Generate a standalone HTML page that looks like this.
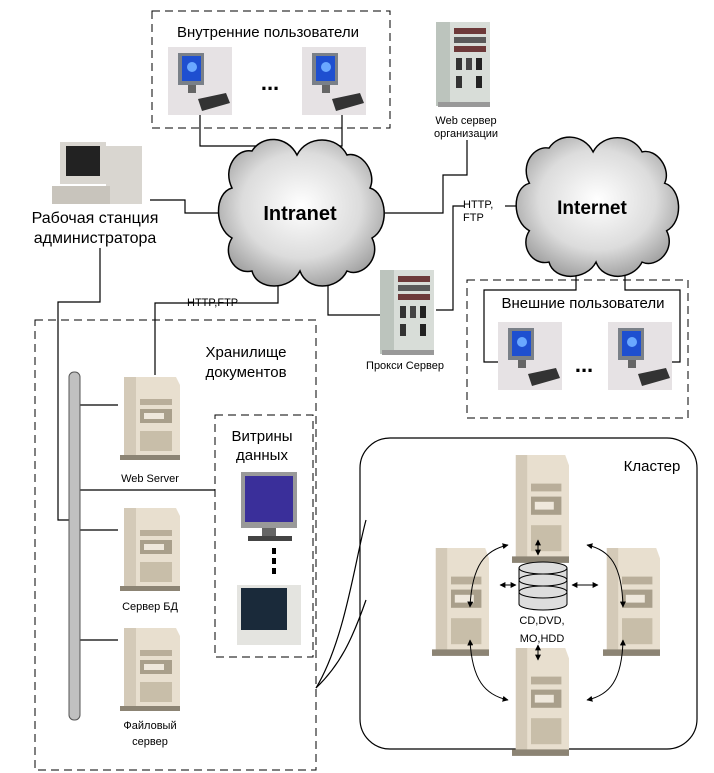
<!DOCTYPE html>
<html><head><meta charset="utf-8"><style>
body{margin:0;background:#fff}
svg{display:block}
text{font-family:"Liberation Sans","DejaVu Sans",sans-serif;fill:#000}
</style></head><body>
<svg width="714" height="773" viewBox="0 0 714 773" xmlns="http://www.w3.org/2000/svg">
<defs>
<radialGradient id="cg" cx="50%" cy="45%" r="60%"><stop offset="0" stop-color="#ffffff"/><stop offset="0.6" stop-color="#dcdcdc"/><stop offset="1" stop-color="#9a9a9a"/></radialGradient>
<g id="pc">
<rect x="0" y="0" width="64" height="68" fill="#e6e2e4"/>
<rect x="10" y="6" width="26" height="32" fill="#7a8088"/>
<rect x="14" y="9" width="19" height="25" fill="#1e4fd0"/>
<circle cx="24" cy="20" r="5" fill="#6aa8ff"/>
<rect x="20" y="38" width="8" height="8" fill="#666"/>
<polygon points="30,52 58,46 62,56 34,64" fill="#333"/>
</g>
<g id="tower">
<polygon points="4,0 56,0 60,8 60,80 4,80" fill="#e8dfcf"/>
<rect x="4" y="0" width="12" height="80" fill="#d4cab8"/>
<rect x="20" y="22" width="32" height="6" fill="#b9ae9a"/>
<rect x="20" y="32" width="32" height="14" fill="#a99f8b"/>
<rect x="24" y="36" width="20" height="6" fill="#efe8dc"/>
<rect x="20" y="54" width="32" height="20" fill="#c8bea9"/>
<rect x="0" y="78" width="60" height="5" fill="#8c8474"/>
</g>
<g id="rack">
<rect x="0" y="0" width="54" height="84" fill="#d8ddd8"/>
<rect x="0" y="0" width="14" height="84" fill="#bcc4bd"/>
<rect x="18" y="6" width="32" height="6" fill="#6d3a3a"/>
<rect x="18" y="15" width="32" height="6" fill="#5a5a5a"/>
<rect x="18" y="24" width="32" height="6" fill="#6d3a3a"/>
<rect x="20" y="36" width="6" height="12" fill="#333"/><rect x="30" y="36" width="6" height="12" fill="#444"/><rect x="40" y="36" width="6" height="12" fill="#222"/>
<rect x="20" y="54" width="6" height="12" fill="#333"/><rect x="40" y="54" width="6" height="12" fill="#222"/>
<rect x="2" y="80" width="52" height="5" fill="#999"/>
</g>
<g id="cloud">
<path d="M-50,-62 C-40,-78 -15,-78 -5,-58 C5,-78 35,-78 45,-58 C60,-62 75,-40 68,-25 C85,-20 88,15 70,25 C80,45 60,65 45,58 C35,78 5,78 -2,58 C-12,78 -45,78 -50,58 C-68,62 -80,40 -70,25 C-88,15 -88,-20 -70,-25 C-80,-45 -65,-65 -50,-62 Z" fill="url(#cg)" stroke="#000" stroke-width="1.5"/>
</g>
<marker id="ah" viewBox="0 0 10 10" refX="9" refY="5" markerWidth="6" markerHeight="6" orient="auto-start-reverse"><path d="M0,0 L10,5 L0,10 Z" fill="#000"/></marker>
</defs>

<!-- connecting lines -->
<g stroke="#000" stroke-width="1.2" fill="none">
<polyline points="200,115 200,146 278,146 278,155"/>
<polyline points="342,115 342,146 328,146 328,155"/>
<polyline points="150,200 185,200 185,213 222,213"/>
<polyline points="467,140 467,175 443,175 443,213 385,213"/>
<polyline points="278,272 278,303 155,303 155,375"/>
<polyline points="328,272 328,315 382,315"/>
<polyline points="436,310 453,310 453,206 464,206"/>
<line x1="505" y1="206" x2="520" y2="206"/>
<polyline points="100,248 100,302 58,302 58,520 72,520"/>
<polyline points="576,268 576,290 484,290 484,362 498,362"/>
<polyline points="625,268 625,290 680,290 680,362 668,362"/>
<line x1="78" y1="405" x2="118" y2="405"/>
<line x1="78" y1="490" x2="215" y2="490"/>
<line x1="78" y1="530" x2="118" y2="530"/>
<line x1="78" y1="640" x2="118" y2="640"/>
<path d="M316,688 C345,640 355,560 366,520"/>
<path d="M316,688 C340,665 352,640 366,600"/>
</g>

<!-- clouds -->
<use href="#cloud" transform="translate(302,213) scale(1.0,1.0)"/>
<text x="300" y="220" font-size="20" font-weight="bold" text-anchor="middle">Intranet</text>
<use href="#cloud" transform="translate(598,207) scale(0.98,0.95)"/>
<text x="592" y="214" font-size="19" font-weight="bold" text-anchor="middle">Internet</text>

<!-- internal users -->
<rect x="152" y="11" width="238" height="117" fill="none" stroke="#000" stroke-dasharray="8,5"/>
<text x="268" y="37" font-size="15" text-anchor="middle">Внутренние пользователи</text>
<use href="#pc" transform="translate(168,47)"/>
<use href="#pc" transform="translate(302,47)"/>
<text x="270" y="90" font-size="22" font-weight="bold" text-anchor="middle">...</text>

<!-- web server org -->
<use href="#rack" transform="translate(436,22)"/>
<text x="466" y="124" font-size="11" text-anchor="middle">Web сервер</text>
<text x="466" y="137" font-size="11" text-anchor="middle">организации</text>

<!-- admin -->
<rect x="60" y="142" width="46" height="42" fill="#d9d6d0"/><rect x="66" y="146" width="34" height="30" fill="#222"/>
<rect x="106" y="146" width="36" height="58" fill="#d9d6d0"/>
<rect x="52" y="186" width="58" height="18" fill="#c8c4bc"/>
<text x="95" y="223" font-size="16" text-anchor="middle">Рабочая станция</text>
<text x="95" y="243" font-size="16" text-anchor="middle">администратора</text>

<text x="463" y="208" font-size="11">HTTP,</text>
<text x="463" y="221" font-size="11">FTP</text>
<text x="187" y="306" font-size="11">HTTP,FTP</text>

<!-- proxy -->
<use href="#rack" transform="translate(380,270)"/>
<text x="405" y="369" font-size="11" text-anchor="middle">Прокси Сервер</text>

<!-- external users -->
<rect x="467" y="280" width="221" height="138" fill="none" stroke="#000" stroke-dasharray="8,5"/>
<rect x="485" y="294" width="190" height="20" fill="#fff"/>
<text x="583" y="308" font-size="15" text-anchor="middle">Внешние пользователи</text>
<use href="#pc" transform="translate(498,322)"/>
<use href="#pc" transform="translate(608,322)"/>
<text x="584" y="372" font-size="22" font-weight="bold" text-anchor="middle">...</text>

<!-- storage -->
<rect x="35" y="320" width="281" height="450" fill="none" stroke="#000" stroke-dasharray="8,5"/>
<text x="246" y="357" font-size="15" text-anchor="middle">Хранилище</text>
<text x="246" y="377" font-size="15" text-anchor="middle">документов</text>
<rect x="69" y="372" width="11" height="348" rx="5" fill="#c0c0c0" stroke="#555"/>
<use href="#tower" transform="translate(120,377)"/>
<text x="150" y="482" font-size="11" text-anchor="middle">Web Server</text>
<use href="#tower" transform="translate(120,508)"/>
<text x="150" y="610" font-size="11" text-anchor="middle">Сервер БД</text>
<use href="#tower" transform="translate(120,628)"/>
<text x="150" y="729" font-size="11" text-anchor="middle">Файловый</text>
<text x="150" y="745" font-size="11" text-anchor="middle">сервер</text>

<!-- vitriny -->
<rect x="215" y="415" width="98" height="242" fill="none" stroke="#000" stroke-dasharray="8,5"/>
<text x="262" y="441" font-size="15" text-anchor="middle">Витрины</text>
<text x="262" y="460" font-size="15" text-anchor="middle">данных</text>
<rect x="241" y="472" width="56" height="56" fill="#999"/><rect x="245" y="476" width="48" height="46" fill="#3a2f9a"/>
<rect x="262" y="528" width="14" height="8" fill="#666"/><rect x="248" y="536" width="44" height="5" fill="#444"/>
<rect x="272" y="548" width="4" height="6" fill="#000"/><rect x="272" y="558" width="4" height="6" fill="#000"/><rect x="272" y="568" width="4" height="6" fill="#000"/>
<rect x="237" y="585" width="64" height="60" fill="#e4e4e0"/><rect x="241" y="588" width="46" height="42" fill="#1a2a3a"/>

<!-- cluster -->
<rect x="360" y="438" width="337" height="311" rx="30" fill="none" stroke="#000" stroke-width="1.2"/>
<text x="652" y="471" font-size="15" text-anchor="middle">Кластер</text>
<use href="#tower" transform="translate(512,455) scale(0.95,1.3)"/>
<use href="#tower" transform="translate(432,548) scale(0.95,1.3)"/>
<use href="#tower" transform="translate(603,548) scale(0.95,1.3)"/>
<use href="#tower" transform="translate(512,648) scale(0.95,1.3)"/>
<g stroke="#000" fill="#ddd">
<ellipse cx="543" cy="604" rx="24" ry="6"/><rect x="519" y="568" width="48" height="36" stroke="none"/>
<line x1="519" y1="568" x2="519" y2="604"/><line x1="567" y1="568" x2="567" y2="604"/>
<ellipse cx="543" cy="592" rx="24" ry="6"/><ellipse cx="543" cy="580" rx="24" ry="6"/><ellipse cx="543" cy="568" rx="24" ry="6"/>
</g>
<text x="542" y="624" font-size="11" text-anchor="middle">CD,DVD,</text>
<text x="542" y="642" font-size="11" text-anchor="middle">MO,HDD</text>
<g stroke="#000" fill="none" stroke-width="1" marker-start="url(#ah)" marker-end="url(#ah)">
<path d="M508,545 C485,550 472,565 470,607"/>
<path d="M587,545 C610,550 622,565 623,607"/>
<path d="M470,640 C472,680 485,695 508,700"/>
<path d="M623,640 C622,680 610,695 587,700"/>
<line x1="538" y1="540" x2="538" y2="555"/>
<line x1="538" y1="645" x2="538" y2="660"/>
<line x1="500" y1="585" x2="516" y2="585"/>
<line x1="572" y1="585" x2="598" y2="585"/>
</g>
</svg>
</body></html>
